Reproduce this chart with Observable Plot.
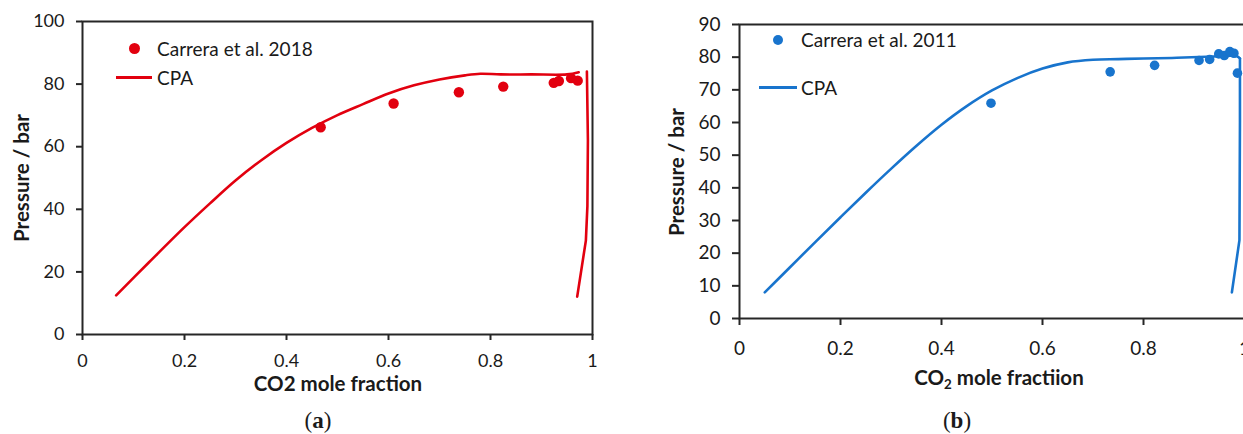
<!DOCTYPE html>
<html>
<head>
<meta charset="utf-8">
<script src="https://cdn.jsdelivr.net/npm/d3@7"></script>
<script src="https://cdn.jsdelivr.net/npm/@observablehq/plot@0.6"></script>
<style>
  html, body { margin: 0; padding: 0; background: #fff; }
  body { width: 1243px; height: 434px; overflow: hidden; position: relative; font-family: Lato, "Open Sans", sans-serif; color: #1a1a1a; }
  .panel { position: absolute; top: 0; }
  .panel svg [aria-label*="axis"] path, .panel svg [aria-label*="axis"] line { stroke: #262626; stroke-width: 2px; }
  .lbl { position: absolute; white-space: nowrap; transform: translate(-50%, -50%); font-weight: 700; font-size: 20.5px; }
  .rot { transform: translate(-50%, -50%) rotate(-90deg); }
  .leg { position: absolute; white-space: nowrap; transform: translateY(-50%); font-size: 19px; }
  .dot { position: absolute; border-radius: 50%; }
  .sw { position: absolute; }
  .cap { position: absolute; transform: translate(-50%, -50%); font-family: "Liberation Serif", "DejaVu Serif", serif; font-size: 23px; }
  sub { font-size: 0.65em; vertical-align: -0.3em; line-height: 0; }
</style>
</head>
<body>
<div id="pa" class="panel" style="left:0;width:620px"></div>
<div id="pb" class="panel" style="left:620px;width:624px"></div>

<script>
// ---- Panel (a) data ----
const xTicks = [0, 0.2, 0.4, 0.6, 0.8, 1];
const aYTicks = [0, 20, 40, 60, 80, 100];
const aExpX = [0.467, 0.610, 0.738, 0.825, 0.924, 0.934, 0.958, 0.971];
const aExpP = [66.2, 73.8, 77.4, 79.2, 80.4, 81.0, 81.9, 81.1];
const aBubX = [0.066, 0.13, 0.20, 0.25, 0.30, 0.35, 0.40, 0.45, 0.50, 0.55, 0.60, 0.65, 0.70, 0.75, 0.78, 0.82, 0.88, 0.95, 0.973];
const aBubP = [12.5, 23.0, 34.3, 41.9, 49.2, 55.6, 61.2, 66.0, 70.1, 73.6, 77.0, 79.6, 81.5, 82.8, 83.3, 83.1, 83.1, 83.1, 83.8];
const aDewX = [0.989, 0.991, 0.990, 0.987, 0.970];
const aDewP = [84.0, 62.0, 41.0, 30.0, 12.1];

// ---- Panel (b) data ----
const bYTicks = [0, 10, 20, 30, 40, 50, 60, 70, 80, 90];
const bExpX = [0.498, 0.734, 0.822, 0.910, 0.931, 0.949, 0.960, 0.971, 0.979, 0.986];
const bExpP = [65.9, 75.5, 77.5, 79.0, 79.3, 81.0, 80.5, 81.7, 81.2, 75.1];
const bBubX = [0.05, 0.10, 0.15, 0.20, 0.25, 0.30, 0.35, 0.40, 0.45, 0.50, 0.55, 0.60, 0.65, 0.70, 0.75, 0.80, 0.866, 0.939, 0.985, 0.991];
const bBubP = [8.0, 15.7, 23.4, 31.0, 38.5, 45.8, 52.8, 59.3, 65.0, 69.8, 73.6, 76.5, 78.4, 79.2, 79.4, 79.6, 79.8, 80.2, 80.3, 79.6];
const bDewX = [0.991, 0.991, 0.990, 0.975];
const bDewP = [79.6, 60.0, 24.0, 8.0];

const RED = "#e2000f";
const BLUE = "#1874cd";

function pts(xs, ys) { return xs.map((x, i) => ({x, y: ys[i]})); }

function panel(o) {
  return Plot.plot({
    width: o.width, height: 434,
    marginLeft: o.ml, marginRight: o.mr, marginTop: o.mt, marginBottom: o.mb,
    style: {fontFamily: "Lato, 'Open Sans', sans-serif", fontSize: o.fs + "px", color: "#1a1a1a", background: "white", overflow: "visible"},
    x: {domain: [0, 1], ticks: xTicks, tickFormat: d => String(d), tickSize: o.ts, tickPadding: o.xpad, label: null},
    y: {domain: o.ydom, ticks: o.yticks, tickFormat: d => String(d), tickSize: o.ts, tickPadding: o.ypad, label: null},
    marks: [
      Plot.frame({stroke: "#262626", strokeWidth: 2}),
      ...o.lines.map(l => Plot.line(pts(l.x, l.y), {x: "x", y: "y", stroke: o.color, strokeWidth: 2.6, curve: l.curve})),
      Plot.dot(pts(o.ex, o.ey), {x: "x", y: "y", r: o.r, fill: o.color, stroke: "none"})
    ]
  });
}

document.getElementById("pa").appendChild(panel({
  width: 620, ml: 82, mr: 28, mt: 21, mb: 100, fs: 18, ts: 6, xpad: 14, ypad: 12,
  ydom: [0, 100], yticks: aYTicks, color: RED, r: 5.2,
  lines: [{x: aBubX, y: aBubP, curve: "catmull-rom"}, {x: aDewX, y: aDewP, curve: "linear"}],
  ex: aExpX, ey: aExpP
}));

document.getElementById("pb").appendChild(panel({
  width: 624, ml: 119, mr: 0, mt: 24, mb: 116, fs: 19, ts: 7, xpad: 16, ypad: 12,
  ydom: [0, 90], yticks: bYTicks, color: BLUE, r: 4.8,
  lines: [{x: bBubX, y: bBubP, curve: "catmull-rom"}, {x: bDewX, y: bDewP, curve: "linear"}],
  ex: bExpX, ey: bExpP
}));
</script>

<!-- Panel (a) texts and legend -->
<div class="lbl" style="left:338px;top:383px">CO2 mole fraction</div>
<div class="lbl rot" style="left:21px;top:178px">Pressure / bar</div>
<span class="dot" style="left:128.5px;top:42.5px;width:11px;height:11px;background:#e2000f"></span>
<div class="leg" style="left:157px;top:48px">Carrera et al. 2018</div>
<span class="sw" style="left:116px;top:76px;width:36px;height:2.6px;background:#e2000f"></span>
<div class="leg" style="left:157px;top:77px">CPA</div>
<div class="cap" style="left:318px;top:421px">(<b>a</b>)</div>

<!-- Panel (b) texts and legend -->
<div class="lbl" style="left:999px;top:377px">CO<sub>2</sub> mole fractiion</div>
<div class="lbl rot" style="left:676px;top:172px">Pressure / bar</div>
<span class="dot" style="left:773px;top:34.5px;width:10px;height:10px;background:#1874cd"></span>
<div class="leg" style="left:801px;top:39px">Carrera et al. 2011</div>
<span class="sw" style="left:759px;top:86px;width:38px;height:2.6px;background:#1874cd"></span>
<div class="leg" style="left:801px;top:87px">CPA</div>
<div class="cap" style="left:957px;top:421px">(<b>b</b>)</div>
</body>
</html>
